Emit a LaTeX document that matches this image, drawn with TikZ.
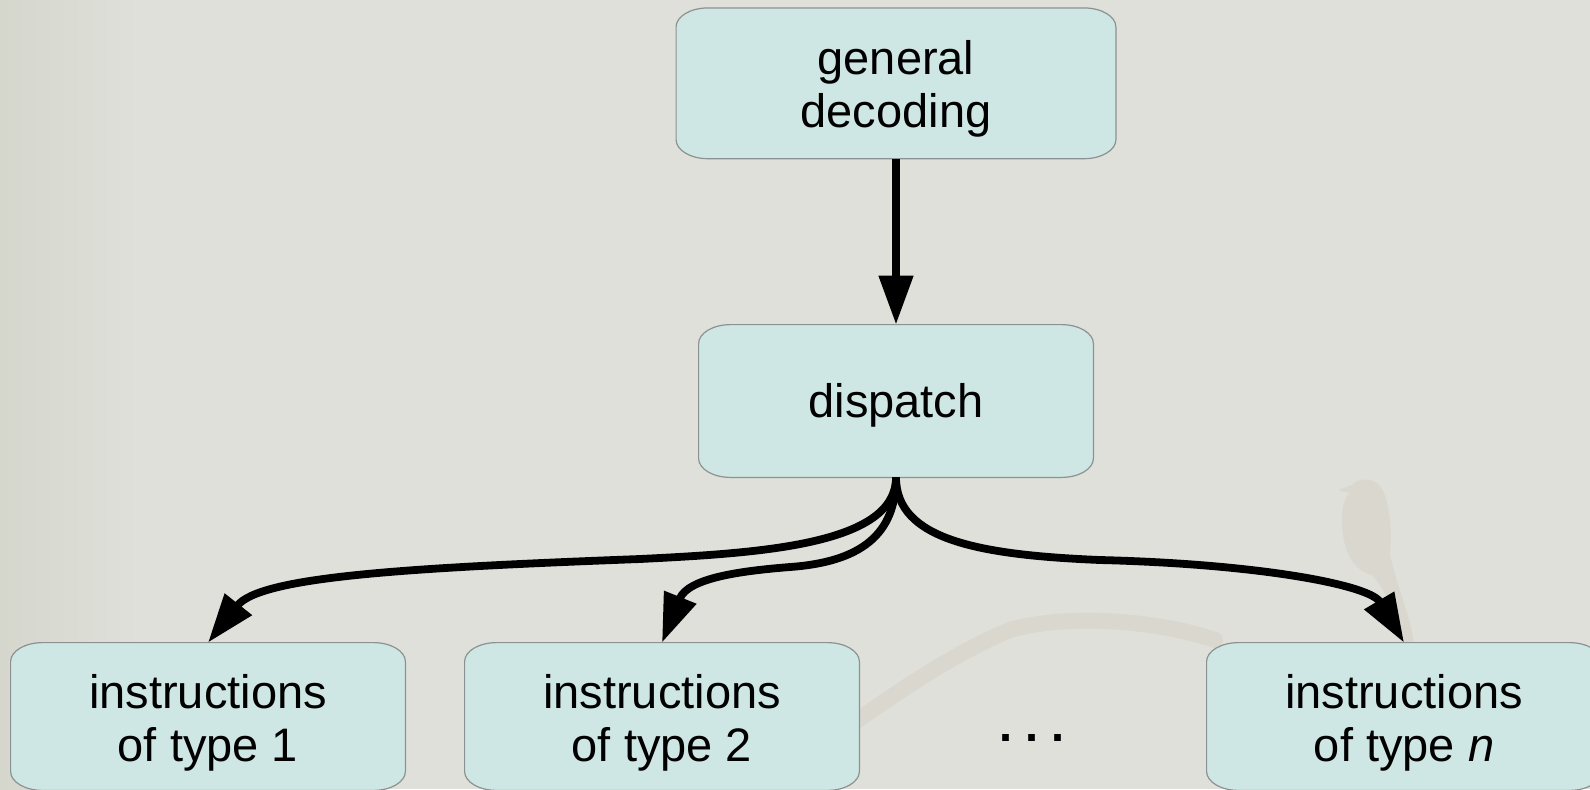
\documentclass[tikz,border=0pt]{standalone}
\usepackage{fontspec}
\setmainfont{Liberation Sans}
\usetikzlibrary{arrows.meta,calc,backgrounds}
\definecolor{bgcol}{HTML}{DFE0DA}
\definecolor{bgdark}{HTML}{D5D6CC}
\definecolor{faint}{HTML}{DAD8CE}
\definecolor{boxfill}{HTML}{CFE7E4}
\definecolor{boxline}{HTML}{8C9191}
\tikzset{
  box/.style={draw=none, inner sep=0pt, align=center, font=\fontsize{23.5pt}{26.5pt}\selectfont},
  topbox/.style={box, minimum width=219.5pt, text height=59.5pt, text depth=15.5pt},
  midbox/.style={box, minimum width=197pt, text height=46pt, text depth=30pt},
  lowbox/.style={box, minimum width=197pt, text height=59pt, text depth=14.5pt},
  boxshape/.style={fill=boxfill, draw=boxline, line width=0.6pt},
  conn/.style={line width=3.9pt, -{Triangle[length=24.5pt,width=16.5pt]}},
  dotstext/.style={inner sep=0pt, anchor=base, font=\fontsize{23.5pt}{26.5pt}\selectfont\bfseries},
}
\begin{document}
\begin{tikzpicture}[x=0.5pt, y=-0.5pt]
\useasboundingbox (0,0) rectangle (1590,789);

\node[topbox] (gd) at (896,83.3) {general\\decoding};
\node[midbox] (dp) at (896,401) {dispatch};
\node[lowbox] (t1) at (208,716.5) {instructions\\of type 1};
\node[lowbox] (t2) at (662,716.5) {instructions\\of type 2};
\node[lowbox] (tn) at (1404,716.5) {instructions\\of type \textit{n}};
\node[dotstext] (dots) at (1032,741) {.\ .\ .};

\begin{scope}[on background layer]
  \fill[bgcol] (0,0) rectangle (1590,789);
  \shade[left color=bgdark, right color=bgcol] (0,0) rectangle (140,789);
  % faint branch and bird of the slide background
  \draw[faint, line width=8pt, line cap=round] (855,722) .. controls (900,690) and (960,650) .. (1010,630)
    .. controls (1060,615) and (1150,618) .. (1215,640);
  \fill[faint] (1338,490) -- (1352,485) .. controls (1358,478) and (1372,477) .. (1380,486)
    .. controls (1390,500) and (1392,530) .. (1390,555)
    .. controls (1398,590) and (1410,615) .. (1414,643) -- (1402,643)
    .. controls (1398,615) and (1385,590) .. (1372,575)
    .. controls (1350,570) and (1342,545) .. (1342,520)
    .. controls (1342,505) and (1345,497) .. (1350,493) -- cycle;
  \foreach \n in {gd,dp,t1,t2,tn}{
    \path[boxshape] ($(\n.north west)+(16pt,0pt)$) -- ($(\n.north east)+(-16pt,0pt)$)
      arc[start angle=90,end angle=0,x radius=16pt,y radius=9.5pt]
      -- ($(\n.south east)+(0pt,9.5pt)$)
      arc[start angle=0,end angle=-90,x radius=16pt,y radius=9.5pt]
      -- ($(\n.south west)+(16pt,0pt)$)
      arc[start angle=270,end angle=180,x radius=16pt,y radius=9.5pt]
      -- ($(\n.north west)+(0pt,-9.5pt)$)
      arc[start angle=180,end angle=90,x radius=16pt,y radius=9.5pt]
      -- cycle;
  }
\end{scope}

\draw[conn] (gd.south) -- (dp.north);
\draw[conn] (dp.south) .. controls (896,545) and (760,553) .. (640,559)
  .. controls (400,568) and (260,577) .. (t1.north);
\draw[conn] (dp.south) .. controls (896,535) and (860,562) .. (790,567)
  .. controls (740,571) and (688,578) .. (t2.north);
\draw[conn] (dp.south) .. controls (896,540) and (980,555) .. (1100,560)
  .. controls (1260,564) and (1370,585) .. (tn.north);
\end{tikzpicture}
\end{document}
